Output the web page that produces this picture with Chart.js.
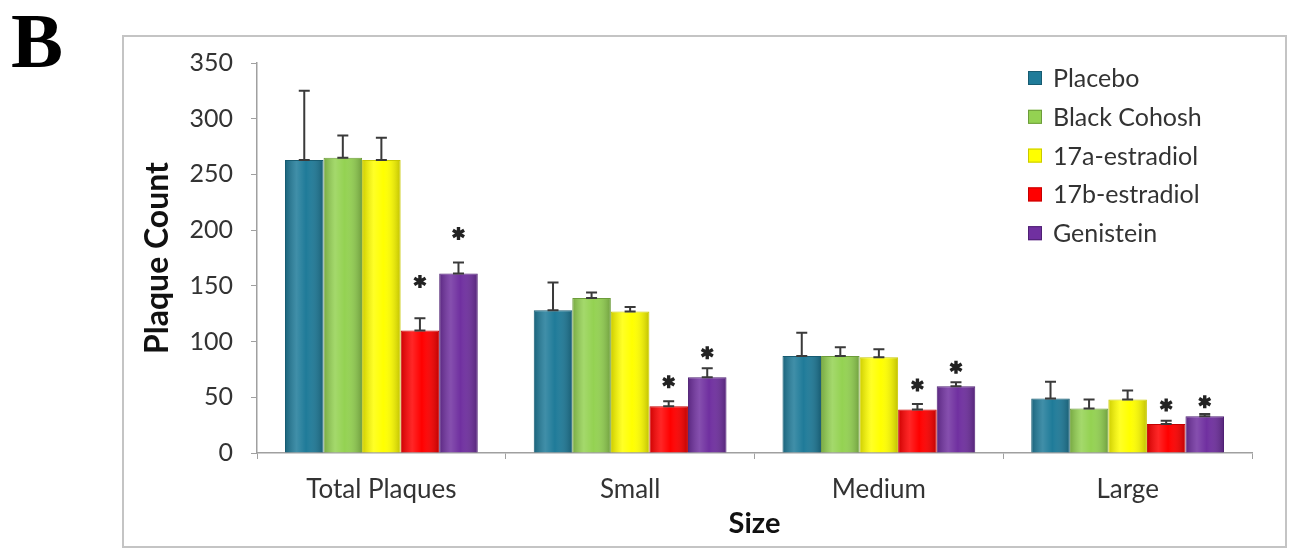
<!DOCTYPE html>
<html>
<head>
<meta charset="utf-8">
<script src="https://cdn.jsdelivr.net/npm/chart.js@4.4.0/dist/chart.umd.min.js"></script>
<style>
html,body{margin:0;padding:0;background:#fff;}
canvas{display:block;}
</style>
</head>
<body>
<canvas id="plaqueChart" width="1291" height="548"></canvas>
<script>
// 크기별 plaque 수
let categories = ["Total Plaques","Small","Medium","Large"];
let seriesNames = ["Placebo","Black Cohosh","17a-estradiol","17b-estradiol","Genistein"];

let placebo = [263,128,87,49];
let blackCohosh = [265,139,87,40];
let alphaEstradiol = [263,127,86,48];
let betaEstradiol = [110,42,39,26];
let genistein = [161,68,60,33];

let placeboErr = [62,25,21,15];
let blackCohoshErr = [20,5,8,8];
let alphaEstradiolErr = [20,4,7,8];
let betaEstradiolErr = [11,4.5,5,3];
let genisteinErr = [10,8,3.5,2];

// 별표 (유의) 높이
let betaStars = [154,64,61,43];
let genisteinStars = [197,90,77,46];

let yTicks = [0,50,100,150,200,250,300,350];

let fills = ["#1f7b99","#94d252","#ffff00","#ff0000","#7030a0"];
let borders = ["#175b71","#6c9c3a","#c9c900","#c40000","#4f2073"];

let values = [placebo,blackCohosh,alphaEstradiol,betaEstradiol,genistein];
let errors = [placeboErr,blackCohoshErr,alphaEstradiolErr,betaEstradiolErr,genisteinErr];
let stars = [null,null,null,betaStars,genisteinStars];

let datasets = [];
for(let i=0;i<seriesNames.length;i++){
    datasets.push({
        label: seriesNames[i],
        data: values[i],
        backgroundColor: fills[i],
        borderColor: borders[i],
        borderWidth: 1,
        categoryPercentage: 0.775,
        barPercentage: 1.0
    });
}

let frame = {
    id: "frame",
    beforeDraw: function(chart){
        let ctx = chart.ctx;
        ctx.save();
        ctx.fillStyle = "#fff";
        ctx.fillRect(0,0,chart.width,chart.height);
        ctx.strokeStyle = "#c4c4c4";
        ctx.lineWidth = 2;
        ctx.strokeRect(123,36,1163,511);
        ctx.fillStyle = "#000";
        ctx.font = "bold 78px 'Liberation Serif'";
        ctx.textBaseline = "alphabetic";
        ctx.fillText("B",11,67);
        ctx.restore();
    }
};

let shading = {
    id: "shading",
    afterDatasetsDraw: function(chart){
        let ctx = chart.ctx;
        let yScale = chart.scales.y;
        ctx.save();
        chart.data.datasets.forEach(function(ds,i){
            let meta = chart.getDatasetMeta(i);
            meta.data.forEach(function(bar,j){
                let left = bar.x - bar.width/2;
                let g = ctx.createLinearGradient(left,0,left+bar.width,0);
                g.addColorStop(0,"rgba(0,0,0,0.2)");
                g.addColorStop(0.3,"rgba(255,255,255,0.15)");
                g.addColorStop(0.55,"rgba(255,255,255,0)");
                g.addColorStop(1,"rgba(0,0,0,0.25)");
                ctx.fillStyle = g;
                ctx.fillRect(left+1,bar.y+1,bar.width-2,bar.base-bar.y-1);

                // 오차 막대
                let top = yScale.getPixelForValue(values[i][j]+errors[i][j]);
                ctx.strokeStyle = "#3a3a3a";
                ctx.lineWidth = 2;
                ctx.beginPath();
                ctx.moveTo(bar.x,bar.y);
                ctx.lineTo(bar.x,top);
                ctx.moveTo(bar.x-5.5,top);
                ctx.lineTo(bar.x+5.5,top);
                ctx.moveTo(bar.x-5.5,bar.y);
                ctx.lineTo(bar.x+5.5,bar.y);
                ctx.stroke();

                if(stars[i]){
                    let sy = yScale.getPixelForValue(stars[i][j]);
                    ctx.strokeStyle = "#222";
                    ctx.lineWidth = 3.4;
                    ctx.beginPath();
                    for(let k=0;k<3;k++){
                        let a = Math.PI/2 + k*Math.PI/3;
                        ctx.moveTo(bar.x+Math.cos(a)*6.5,sy+Math.sin(a)*6.5);
                        ctx.lineTo(bar.x-Math.cos(a)*6.5,sy-Math.sin(a)*6.5);
                    }
                    ctx.stroke();
                }
            });
        });
        ctx.restore();
    }
};

let legendBox = {
    id: "legendBox",
    afterDraw: function(chart){
        let ctx = chart.ctx;
        ctx.save();
        ctx.font = "25px Lato";
        ctx.textBaseline = "middle";
        chart.data.datasets.forEach(function(ds,i){
            let y = 78 + i*38.8;
            ctx.fillStyle = ds.backgroundColor;
            ctx.fillRect(1028,y-7,14,14);
            ctx.strokeStyle = ds.borderColor;
            ctx.lineWidth = 1;
            ctx.strokeRect(1028.5,y-6.5,13,13);
            ctx.fillStyle = "#333";
            ctx.fillText(ds.label,1053,y+1);
        });
        ctx.restore();
    }
};

let ctx = document.getElementById("plaqueChart").getContext("2d");
let myChart = new Chart(ctx, {
    type: "bar",
    data: {
        labels: categories,
        datasets: datasets
    },
    options: {
        responsive: false,
        animation: false,
        layout: {
            padding: {left: 130, right: 39, top: 63, bottom: 0}
        },
        plugins: {
            legend: {display: false},
            tooltip: {enabled: false}
        },
        scales: {
            x: {
                grid: {
                    display: true,
                    drawOnChartArea: false,
                    drawTicks: true,
                    tickLength: 6,
                    color: "#a0a0a0"
                },
                border: {color: "#a0a0a0", width: 1.5},
                ticks: {
                    color: "#333",
                    font: {family: "Lato", size: 26},
                    padding: 15
                },
                title: {
                    display: true,
                    text: "Size",
                    color: "#111",
                    font: {family: "Lato", size: 29, weight: "bold"},
                    padding: {top: 0, bottom: 7}
                },
                afterFit: function(scale){ scale.height = 95; }
            },
            y: {
                min: 0,
                max: 350,
                afterBuildTicks: function(scale){
                    scale.ticks = yTicks.map(function(v){ return {value: v}; });
                },
                grid: {
                    display: true,
                    drawOnChartArea: false,
                    drawTicks: true,
                    tickLength: 6,
                    color: "#a0a0a0"
                },
                border: {color: "#a0a0a0", width: 1.5},
                ticks: {
                    color: "#333",
                    font: {family: "Lato", size: 25},
                    padding: 18
                },
                title: {
                    display: true,
                    text: "Plaque Count",
                    color: "#111",
                    font: {family: "Lato", size: 32, weight: "bold"},
                    padding: {top: 8, bottom: 0}
                },
                afterFit: function(scale){ scale.width = 127; }
            }
        }
    },
    plugins: [frame, shading, legendBox]
});
</script>
</body>
</html>
